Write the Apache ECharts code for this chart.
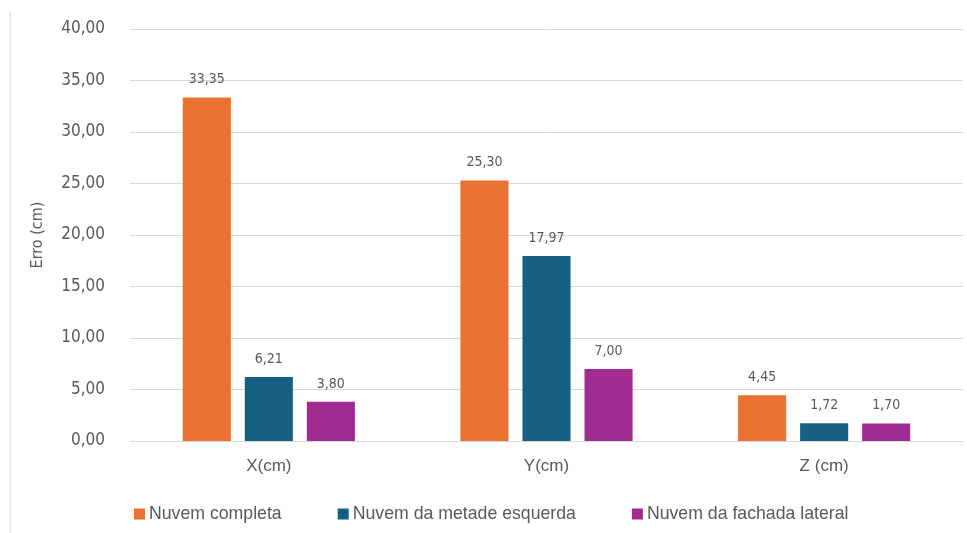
<!DOCTYPE html>
<html>
<head>
<meta charset="utf-8">
<script src="https://cdn.jsdelivr.net/npm/echarts@6/dist/echarts.min.js"></script>
<style>
  html, body { margin: 0; padding: 0; background: #fff; }
  #chart { width: 967px; height: 533px; }
</style>
</head>
<body>
<div id="chart"></div>
<script>
// Axis categories and error values (cm) per point cloud
const categories = ['X(cm)', 'Y(cm)', 'Z (cm)'];
const seriesNames = ['Nuvem completa', 'Nuvem da metade esquerda', 'Nuvem da fachada lateral'];
const nuvemCompleta = [33.35, 25.30, 4.45];
const nuvemMetadeEsquerda = [6.21, 17.97, 1.72];
const nuvemFachadaLateral = [3.80, 7.00, 1.70];
const colors = ['#E97132', '#156082', '#A02B93'];

const narrow = "'Liberation Sans Narrow', 'DejaVu Sans Condensed', 'Liberation Sans', sans-serif";
const regular = "'Liberation Sans', Arial, sans-serif";
const textColor = '#595959';

const fmt = v => Number(v).toFixed(2).replace('.', ',');

function makeSeries(name, data, color) {
  return {
    name: name,
    type: 'bar',
    data: data,
    barGap: '29%',
    barCategoryGap: '38%',
    itemStyle: { color: color },
    label: {
      show: true,
      position: 'top',
      distance: 11,
      color: textColor,
      fontFamily: narrow,
      fontSize: 14,
      formatter: p => fmt(p.value)
    }
  };
}

const chart = echarts.init(document.getElementById('chart'), null, { renderer: 'canvas' });
chart.setOption({
  animation: false,
  backgroundColor: '#ffffff',
  color: colors,
  grid: { left: 130, right: 4, top: 29, bottom: 92, containLabel: false },
  legend: {
    left: 129,
    top: 500,
    itemWidth: 11,
    itemHeight: 11,
    itemGap: 56,
    icon: 'rect',
    textStyle: { color: textColor, fontFamily: regular, fontSize: 17.7, padding: [0, 0, 0, -1] },
    data: seriesNames
  },
  xAxis: {
    type: 'category',
    data: categories,
    axisLine: { show: true, lineStyle: { color: '#d9d9d9', width: 1 } },
    axisTick: { show: false },
    axisLabel: { color: textColor, fontFamily: regular, fontSize: 17, margin: 17 }
  },
  yAxis: {
    type: 'value',
    min: 0,
    max: 40,
    interval: 5,
    name: 'Erro (cm)',
    nameLocation: 'middle',
    nameGap: 84,
    nameTextStyle: { color: textColor, fontFamily: narrow, fontSize: 16 },
    axisLine: { show: false },
    axisTick: { show: false },
    splitLine: { lineStyle: { color: '#d9d9d9', width: 1 } },
    axisLabel: { color: textColor, fontFamily: narrow, fontSize: 17, margin: 25, formatter: v => fmt(v) }
  },
  graphic: [
    {
      type: 'line',
      shape: { x1: 10, y1: 11, x2: 10, y2: 533 },
      style: { stroke: '#d9d9d9', lineWidth: 1 }
    }
  ],
  series: [
    makeSeries(seriesNames[0], nuvemCompleta, colors[0]),
    makeSeries(seriesNames[1], nuvemMetadeEsquerda, colors[1]),
    makeSeries(seriesNames[2], nuvemFachadaLateral, colors[2])
  ]
});
</script>
</body>
</html>
